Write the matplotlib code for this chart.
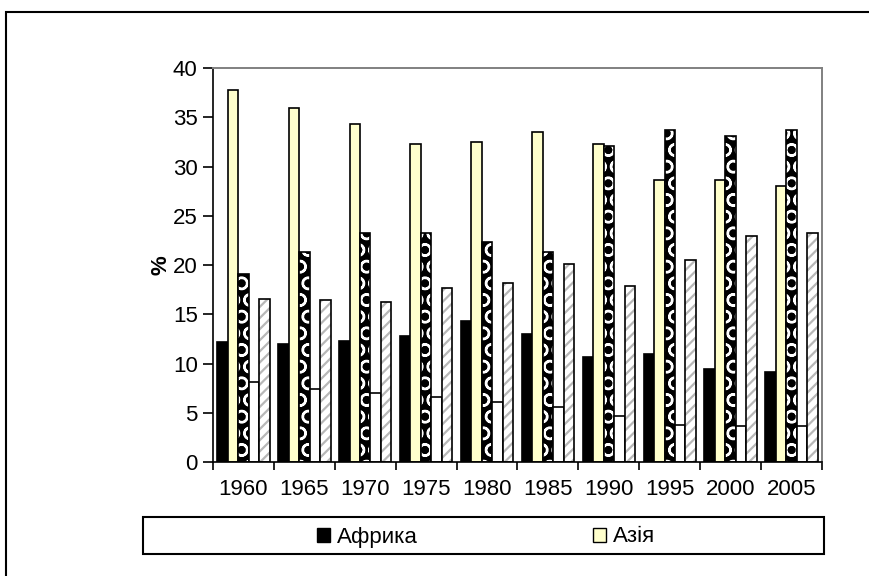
import numpy as np
import matplotlib
matplotlib.use('Agg')
import matplotlib.pyplot as plt
from matplotlib.patches import Rectangle, Patch

plt.rcParams['font.family'] = ['Liberation Sans', 'DejaVu Sans']
plt.rcParams['hatch.linewidth'] = 1.6

years = ['1960', '1965', '1970', '1975', '1980', '1985', '1990', '1995', '2000', '2005']
africa = [12.2, 12.0, 12.3, 12.8, 14.3, 13.0, 10.7, 11.0, 9.4, 9.1]
asia = [37.8, 35.9, 34.3, 32.3, 32.5, 33.5, 32.3, 28.6, 28.6, 28.0]
series3 = [19.1, 21.3, 23.2, 23.3, 22.3, 21.3, 32.1, 33.7, 33.1, 33.7]
series4 = [8.1, 7.45, 7.05, 6.65, 6.05, 5.6, 4.65, 3.8, 3.7, 3.7]
series5 = [16.6, 16.4, 16.25, 17.65, 18.2, 20.1, 17.9, 20.5, 22.9, 23.3]

x = np.arange(len(years))
w = 0.172

fig = plt.figure(figsize=(8.69, 5.76), dpi=100)
ax = fig.add_axes([0.2451, 0.1979, 0.7008, 0.684])

# solid bars
ax.bar(x - 2 * w, africa, w, color='black', edgecolor='black', linewidth=1.2)
ax.bar(x - w, asia, w, color='#ffffcc', edgecolor='black', linewidth=1.2)

# patterned bar: white pattern on black, outline drawn on top
ax.bar(x, series3, w, color='black', edgecolor='white', hatch='O', linewidth=0)
ax.bar(x, series3, w, fill=False, edgecolor='black', linewidth=1.2)

ax.bar(x + w, series4, w, color='white', edgecolor='black', linewidth=1.2)

# light diagonal hatch
ax.bar(x + 2 * w, series5, w, color='white', edgecolor='#b8b8b8', hatch='///', linewidth=0)
ax.bar(x + 2 * w, series5, w, fill=False, edgecolor='black', linewidth=1.2)

ax.set_xlim(-0.5, len(years) - 0.5)
ax.set_ylim(0, 40)
ax.set_yticks(np.arange(0, 41, 5))
ax.set_xticks(x)
ax.set_xticklabels(years)
ax.set_xticks(np.arange(-0.5, len(years)), minor=True)
ax.tick_params(axis='x', which='major', length=0, pad=12, labelsize=16)
ax.tick_params(axis='x', which='minor', length=6, width=1.2, direction='out')
ax.tick_params(axis='y', length=7, width=1.2, direction='out', labelsize=16, pad=4)

for s in ['left', 'bottom']:
    ax.spines[s].set_linewidth(1.2)
    ax.spines[s].set_color('black')
for s in ['top', 'right']:
    ax.spines[s].set_linewidth(1.4)
    ax.spines[s].set_color('#808080')

ax.set_ylabel('%', fontsize=16, fontweight='bold', labelpad=1)

# legend box
fig.patches.append(Rectangle((143 / 869, 1 - 554 / 576), (824 - 143) / 869, 37 / 576,
                             transform=fig.transFigure, fill=False,
                             edgecolor='black', linewidth=1.5))
handles = [Patch(facecolor='black', edgecolor='black'),
           Patch(facecolor='#ffffcc', edgecolor='black')]
fig.legend(handles, ['Африка', 'Азія'], ncol=2, frameon=False, fontsize=16,
           loc='center left', bbox_to_anchor=(317 / 869, 1 - 537 / 576),
           handlelength=0.58, handleheight=0.58, handletextpad=0.3,
           columnspacing=7.9, borderpad=0, borderaxespad=0)

# outer frame
fig.patches.append(Rectangle((6 / 869, -0.1), 1.2, 1.1 - 12 / 576,
                             transform=fig.transFigure, fill=False,
                             edgecolor='black', linewidth=1.5))

plt.savefig('out.png', dpi=100)
plt.close()
